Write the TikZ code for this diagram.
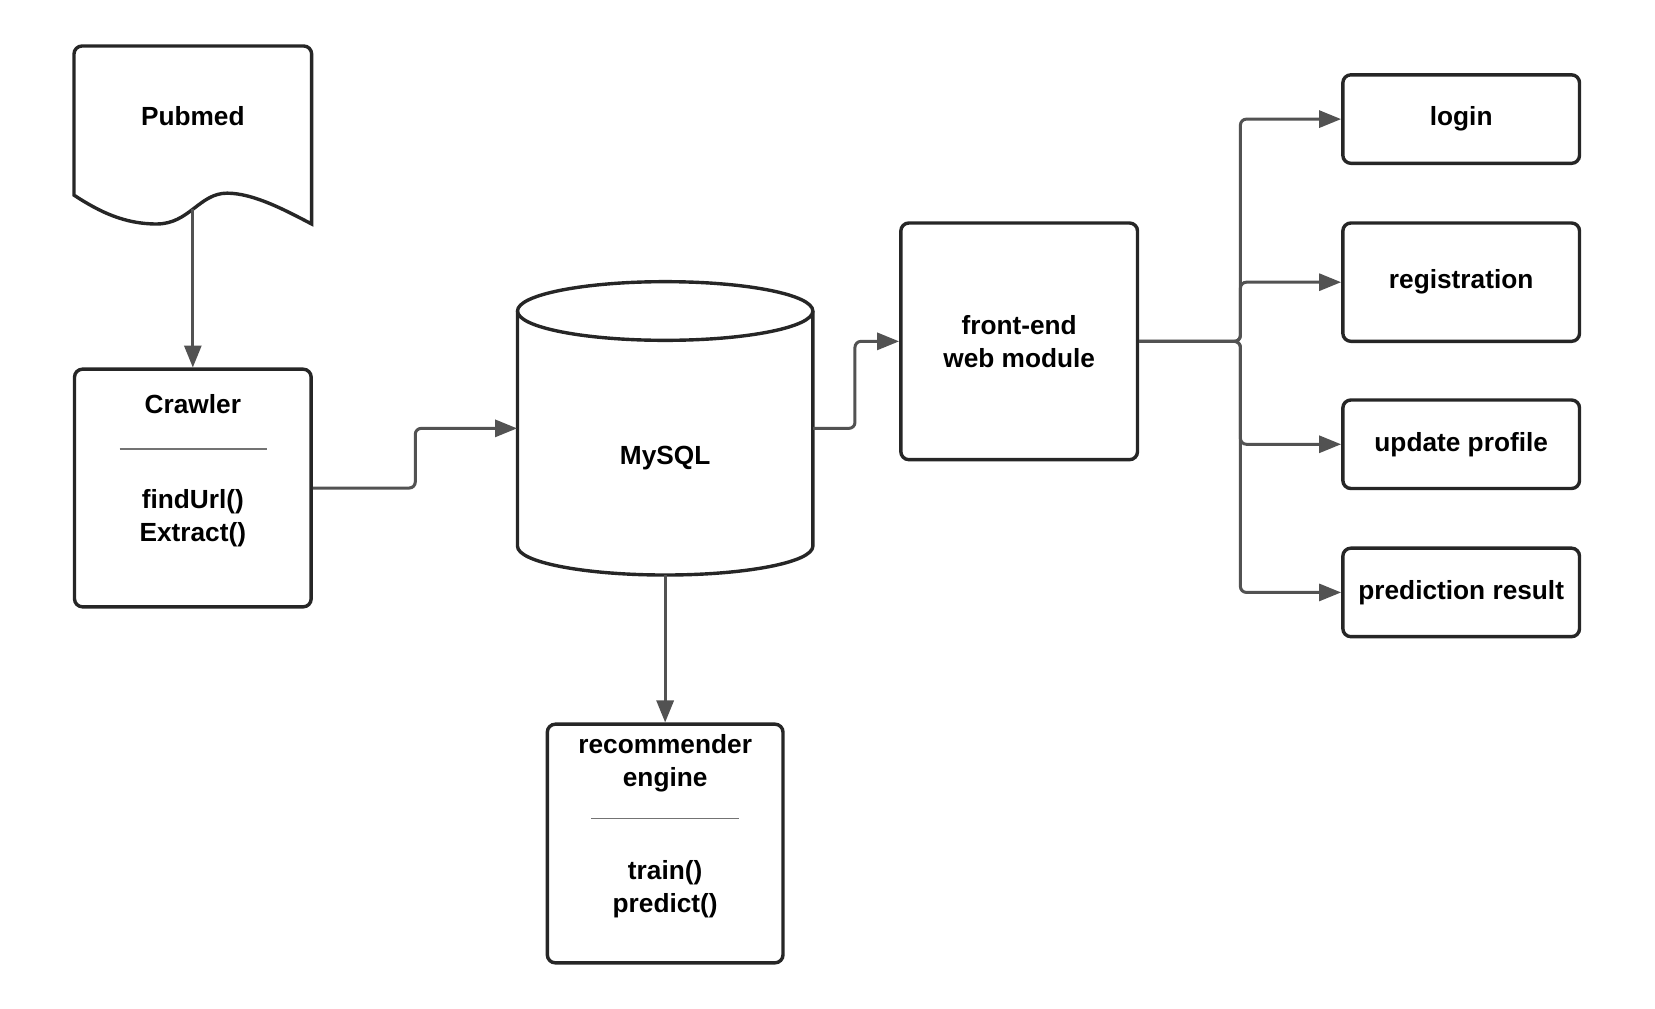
\documentclass[tikz,border=0pt]{standalone}
\usepackage{fontspec}
\setmainfont{Liberation Sans}
\usetikzlibrary{arrows.meta}

\tikzset{
  box/.style={draw=black!85, line width=1.7pt, rounded corners=4pt,
              minimum width=119pt, minimum height=44.5pt, inner sep=0pt},
  txt/.style={font=\fontsize{13.2}{16.5}\selectfont\bfseries, text=black, align=center},
  shape line/.style={draw=black!85, line width=1.7pt},
  conn/.style={draw=black!68, line width=1.5pt, rounded corners=3pt,
               -{Triangle[length=11pt,width=8.5pt]}},
  sepline/.style={draw=black!55, line width=0.8pt},
}

\begin{document}
\begin{tikzpicture}[x=0.5pt,y=0.5pt]
\useasboundingbox (0,0) rectangle (1655,1008);

\begin{scope}[shift={(74,962)}, scale=0.9944, transform shape, shift={(-74,-962)}]
% Pubmed (document shape)
\draw[shape line]
(74,812) [rounded corners=4pt] -- (74,962) -- (313,962) [sharp corners] -- (313,783)
.. controls (288,796) and (255,814) .. (228,814)
.. controls (200,814) and (190,783) .. (157,783)
.. controls (125,783) and (100,795) .. (74,812) -- cycle;
\node[txt] (pubmed) at (193.5,891) {Pubmed};
\coordinate (pubmed-wave) at (193.5,798);

% Crawler
\node[box, minimum height=119.5pt] (crawler) at (193.5,517.5) {};
\node[txt] (crawler-title) at (193.5,602) {Crawler};
\draw[sepline] (120,557) -- (268,557);
\node[txt] (crawler-ops) at (193.5,487) {findUrl()\\Extract()};

% MySQL (cylinder)
\node[minimum width=148.5pt, minimum height=147.5pt, inner sep=0pt] (mysql) at (668.5,577.5) {};
\draw[shape line]
(520,695.5) -- (520,459) arc[start angle=180, end angle=360, x radius=74.25pt, y radius=14.5pt]
-- (817,695.5);
\draw[shape line] (668.5,695.5) ellipse [x radius=74.25pt, y radius=14.75pt];
\node[txt] (mysql-label) at (668.5,548) {MySQL};

% recommender engine
\node[box, minimum width=118.5pt, minimum height=120pt] (recommender) at (668.5,160) {};
\node[txt] (recommender-title) at (668.5,241) {recommender\\engine};
\draw[sepline] (594,185) -- (743,185);
\node[txt] (recommender-ops) at (668.5,114) {train()\\predict()};

% front-end
\node[box, txt, minimum height=119pt] (frontend) at (1024.5,665) {front-end\\web module};

% pages
\node[box, txt] (login) at (1469,888.5) {login};
\node[box, txt, minimum height=59.5pt] (registration) at (1469,724.5) {registration};
\node[box, txt] (update) at (1469,561.5) {update profile};
\node[box, txt] (prediction) at (1469,412.5) {prediction result};

% connectors
\draw[conn] (pubmed-wave) -- (crawler.north);
\draw[conn] (crawler.east) -- ++(103,0) |- (mysql.west);
\draw[conn] (mysql.east) -- ++(42,0) |- (frontend.west);
\draw[conn] (mysql.south) -- (recommender.north);

\coordinate (junction) at (1247,665);
\foreach \page in {login,registration,update,prediction}
  \draw[conn] (frontend.east) -- (junction) |- (\page.west);
\end{scope}
\end{tikzpicture}
\end{document}
